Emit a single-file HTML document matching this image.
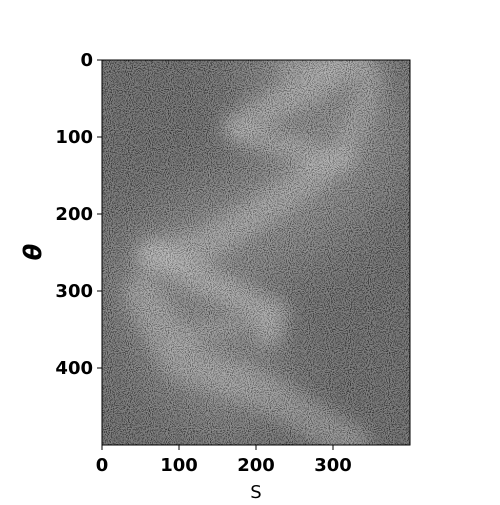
<!DOCTYPE html>
<html><head><style>
body{margin:0;background:#fff;}
svg text{font-family:"DejaVu Sans","Liberation Sans",sans-serif;font-weight:bold;}
</style></head><body>
<svg id="c" width="500" height="500" viewBox="0 0 500 500">
<defs>
<filter id="blur" x="-20%" y="-20%" width="140%" height="140%"><feGaussianBlur stdDeviation="8"/></filter>
<filter id="bigblur" x="-50%" y="-50%" width="200%" height="200%"><feGaussianBlur stdDeviation="30"/></filter>
<filter id="noise" x="0" y="0" width="100%" height="100%">
<feTurbulence type="fractalNoise" baseFrequency="0.95" numOctaves="1" seed="3" result="t"/>
<feColorMatrix type="matrix" values="4 0 0 0 -1.5  4 0 0 0 -1.5  4 0 0 0 -1.5  0 0 0 0 1" />
</filter>
<clipPath id="clip"><rect x="102" y="60" width="308" height="385"/></clipPath>
</defs>
<g clip-path="url(#clip)">
<rect x="102" y="60" width="308" height="385" fill="#4e4e4e"/>
<g id="glow" filter="url(#bigblur)"></g>
<g id="bands" filter="url(#blur)"></g>
<rect x="102" y="60" width="308" height="385" filter="url(#noise)" opacity="0.3"/>
</g>
<rect x="102" y="60" width="308" height="385" fill="none" stroke="#000" stroke-width="1"/>
<g id="axes"></g>
<text x="256" y="498" font-size="18" text-anchor="middle" style="font-weight:normal">S</text>
<text x="0" y="0" font-size="24" text-anchor="middle" transform="translate(41,252) rotate(-90)" style="font-style:italic">θ</text>
</svg>
<script>
const xTicks=[0,100,200,300];
const yTicks=[0,100,200,300,400];
const glowPts=[[[190,50],[300,20],[330,100],[260,180],[150,240],[80,280],[120,380],[220,440]]];
const bandPaths=[
 [[330,0],[260,40],[173,87]],
 [[182,95],[250,115],[290,130],[312,130]],
 [[312,125],[340,60],[350,20]],
 [[281,147],[200,200],[130,242],[65,255]],
 [[65,251],[140,290],[225,329],[216,355]],
 [[52,303],[100,390],[216,433],[325,498]],
 [[108,360],[216,333]],
 [[240,10],[300,0]]
];
const bandWidth=[38,32,34,42,36,48,24,28];
const bandAlpha=[0.45,0.4,0.32,0.4,0.5,0.38,0.28,0.32];
const X0=102,Y0=60,K=0.77;
const sx=v=>X0+v*K, sy=v=>Y0+v*K;
const NS='http://www.w3.org/2000/svg';
function pathD(p){return p.map((q,i)=>(i?'L':'M')+sx(q[0])+' '+sy(q[1])).join(' ');}
const glow=document.getElementById('glow');
glowPts.forEach(p=>{const e=document.createElementNS(NS,'path');
e.setAttribute('d',pathD(p));e.setAttribute('stroke','#8a8a8a');e.setAttribute('stroke-width','110');e.setAttribute('fill','none');e.setAttribute('stroke-linejoin','round');e.setAttribute('opacity','0.6');


glow.appendChild(e);});
const bands=document.getElementById('bands');
bandPaths.forEach((p,i)=>{const e=document.createElementNS(NS,'path');
e.setAttribute('d',pathD(p));e.setAttribute('stroke','#c0c0c0');e.setAttribute('stroke-width',bandWidth[i]*K);e.setAttribute('fill','none');e.setAttribute('stroke-linejoin','round');e.setAttribute('stroke-linecap','round');e.setAttribute('opacity',bandAlpha[i]);


bands.appendChild(e);});
const ax=document.getElementById('axes');
xTicks.forEach(v=>{const l=document.createElementNS(NS,'line');l.setAttribute('x1',sx(v));l.setAttribute('x2',sx(v));l.setAttribute('y1',445);l.setAttribute('y2',450);l.setAttribute('stroke','#000');


ax.appendChild(l);
const t=document.createElementNS(NS,'text');t.setAttribute('x',sx(v));t.setAttribute('y',471);t.setAttribute('font-size','18');t.setAttribute('text-anchor','middle');t.textContent=v;


ax.appendChild(t);});
yTicks.forEach(v=>{const l=document.createElementNS(NS,'line');l.setAttribute('x1',97);l.setAttribute('x2',102);l.setAttribute('y1',sy(v));l.setAttribute('y2',sy(v));l.setAttribute('stroke','#000');


ax.appendChild(l);
const t=document.createElementNS(NS,'text');t.setAttribute('x',93);t.setAttribute('y',sy(v)+6);t.setAttribute('font-size','18');t.setAttribute('text-anchor','end');t.textContent=v;


ax.appendChild(t);});
</script>
</body></html>
